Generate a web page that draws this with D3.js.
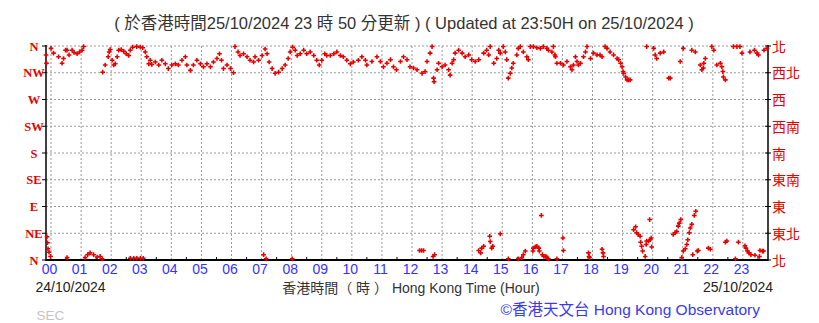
<!DOCTYPE html>
<html><head><meta charset="utf-8">
<script src="https://cdn.jsdelivr.net/npm/d3@7"></script>
<style>
html,body{margin:0;padding:0;background:#fff;}
svg{display:block;}
</style>
</head><body>
<script>
// ---- data ----
const titleText = "( 於香港時間25/10/2024 23 時 50 分更新 ) ( Updated at 23:50H on 25/10/2024 )";
const dirLabelsEn = ["N","NE","E","SE","S","SW","W","NW","N"];
const dirLabelsZh = ["北","東北","東","東南","南","西南","西","西北","北"];
const dirValues = [0,45,90,135,180,225,270,315,360];
const hourLabels = ["00","01","02","03","04","05","06","07","08","09","10","11","12","13","14","15","16","17","18","19","20","21","22","23"];
const startDateLabel = "24/10/2024";
const endDateLabel = "25/10/2024";
const xAxisTitle = "香港時間（ 時 ） Hong Kong Time (Hour)";
const creditText = "©香港天文台 Hong Kong Observatory";
// minutes from 00:00 25/10/2024 (negative = previous day)
const obsMinutes = [
-10,-9,-8,-7,-6,-4,-1,0,5,15,22,25,29,32,36,42,46,52,57,62,65,
32,68,73,78,85,92,98,102,
103,108,114,116,118,122,125,128,132,135,140,145,150,155,158,163,171,178,183,188,191,195,198,201,208,215,221,228,234,241,248,254,261,268,271,278,284,291,298,304,311,318,324,331,336,340,344,351,358,364,
158,165,171,178,184,
367,373,377,384,391,397,404,407,414,421,427,431,435,441,447,454,461,467,473,477,482,487,491,497,504,510,517,524,530,535,540,546,550,557,564,570,577,583,590,597,603,613,620,627,630,640,650,657,663,670,677,683,689,697,703,710,716,723,730,740,746,
424,429,481,
735,739,743,
750,756,760,763,764,762,765,
770,773,780,786,793,796,800,803,806,813,820,826,833,839,846,853,
853,857,859,863,875,876,879,881,896,
863,869,873,876,883,889,893,896,902,906,909,
912,916,919,922,929,932,936,942,949,952,956,962,969,976,982,989,992,999,1002,1005,1006,1009,1016,1022,1029,1036,1039,1042,1046,1049,1052,1056,1062,1066,1069,1076,1082,1089,1095,1099,1105,1109,1115,1122,1129,1132,1136,1139,1141,1142,1146,1149,1152,1155,
912,932,939,942,946,961,962,966,969,973,974,978,980,983,987,989,992,1009,1021,1022,1072,1073,1074,1099,1101,1102,
1162,1166,1168,1171,1175,1176,1178,1180,1185,1187,1188,1192,1194,1195,1197,1198,
1188,1202,1205,1208,1215,1222,1232,1235,
1241,1245,1248,1251,1253,1256,1258,1261,1265,1268,1270,1273,1275,1278,1280,1283,1286,1289,1291,
1255,1261,1278,1285,1295,1298,1301,1302,1305,
1318,1322,1328,1335,1338,1340,1341,1345,
1311,1315,1345,1348,1365,1371,1384,1386,1389,1392,1396,1404,1413,1414,1419,1421,
1361,1368,1374,1378,1394,1403,1408,1411,1422,1428
];
// wind direction in degrees
const obsDirection = [
345,331,39,29,19,13,6,356,348,342,331,339,353,353,345,353,349,347,350,353,359,
4,4,9,12,9,5,6,2,
316,328,342,350,354,336,328,330,342,353,354,351,347,344,353,358,359,358,357,350,342,330,336,329,333,328,336,330,322,328,330,328,336,342,328,319,328,336,330,325,330,325,333,339,347,336,322,328,322,315,
3,3,3,3,3,
359,350,344,347,342,336,333,342,336,344,355,347,333,322,314,316,322,328,339,350,358,353,344,347,353,347,350,344,336,328,336,347,344,344,347,350,344,342,336,330,333,336,342,336,328,334,342,334,325,331,337,325,320,334,342,337,325,323,320,314,317,
9,2,2,
16,16,16,
334,348,359,306,300,6,9,
320,331,325,328,320,311,331,337,348,353,348,342,345,337,334,337,
16,12,20,23,40,31,20,23,44,
348,353,345,359,331,339,353,348,359,350,337,
306,314,323,331,345,356,359,350,342,337,359,359,357,356,359,356,353,350,359,345,342,331,331,328,334,325,320,328,342,334,328,331,342,350,359,339,348,345,345,342,359,356,350,345,339,337,331,325,317,314,308,303,303,303,
2,2,4,9,15,15,20,22,23,20,15,75,9,6,6,4,2,2,37,16,12,6,4,18,12,6,
51,56,46,43,40,30,23,15,6,26,32,32,68,34,37,22,
359,356,345,339,348,350,306,306,
43,46,48,57,62,68,4,15,19,26,34,46,54,60,9,75,82,15,16,
334,356,353,350,328,320,323,331,339,
359,353,328,331,325,317,308,303,
20,18,30,32,2,30,24,20,15,12,9,8,6,16,15,15,
359,359,359,348,350,353,348,345,353,356
];

// ---- layout ----
const W = 819, H = 323;
const plot = {left:46, right:768, top:46, bottom:260};
const svg = d3.select("body").append("svg").attr("width", W).attr("height", H);

const x = d3.scaleLinear().domain([-10, 1430]).range([plot.left, plot.right]);
const y = d3.scaleLinear().domain([0, 360]).range([plot.bottom, plot.top]);

const red = "#e60000";
const gridColor = "#9a9a9a";

// title
svg.append("text").attr("x", 404).attr("y", 29).attr("text-anchor","middle")
  .attr("font-family","'Liberation Sans', 'Noto Sans CJK TC', sans-serif").attr("font-size", 16.5)
  .attr("fill","#333").text(titleText);

// gridlines
const hourMinutes = hourLabels.map((h,i)=>i*60);
const gGrid = svg.append("g");
gGrid.selectAll("line.v").data(hourMinutes).enter().append("line")
  .attr("x1", d=>x(d)).attr("x2", d=>x(d)).attr("y1", plot.top).attr("y2", plot.bottom)
  .attr("stroke", gridColor).attr("stroke-width",1).attr("stroke-dasharray","2,2");
gGrid.selectAll("line.h").data(dirValues.filter(d=>d>0)).enter().append("line")
  .attr("x1", plot.left).attr("x2", plot.right).attr("y1", d=>y(d)).attr("y2", d=>y(d))
  .attr("stroke", gridColor).attr("stroke-width",1).attr("stroke-dasharray","2,2");

// axes lines
const gAx = svg.append("g");
gAx.append("line").attr("x1",plot.left).attr("x2",plot.left).attr("y1",plot.top-1).attr("y2",plot.bottom+1)
  .attr("stroke","#000").attr("stroke-width",1.5);
gAx.append("line").attr("x1",plot.right).attr("x2",plot.right).attr("y1",plot.top-1).attr("y2",plot.bottom+1)
  .attr("stroke","#000").attr("stroke-width",1.5);
gAx.append("line").attr("x1",plot.left).attr("x2",plot.right).attr("y1",plot.bottom).attr("y2",plot.bottom)
  .attr("stroke","#000").attr("stroke-width",2);
// left/right ticks
gAx.selectAll("line.lt").data(dirValues).enter().append("line")
  .attr("x1",plot.left-4).attr("x2",plot.left).attr("y1",d=>y(d)).attr("y2",d=>y(d))
  .attr("stroke","#000").attr("stroke-width",1);
gAx.selectAll("line.rt").data(dirValues).enter().append("line")
  .attr("x1",plot.right-3).attr("x2",plot.right+3).attr("y1",d=>y(d)).attr("y2",d=>y(d))
  .attr("stroke","#000").attr("stroke-width",1);
// minor half-hour ticks
const halfHours = hourMinutes.map(m=>m+30).filter(m=>m<1430);
gAx.selectAll("line.mt").data(halfHours).enter().append("line")
  .attr("x1",d=>x(d)).attr("x2",d=>x(d)).attr("y1",plot.bottom-3).attr("y2",plot.bottom)
  .attr("stroke","#000").attr("stroke-width",1);

// bottom axis via d3
const xAxis = d3.axisBottom(x).tickValues(hourMinutes).tickSize(0).tickPadding(0)
  .tickFormat((d,i)=>hourLabels[i]);
const gx = svg.append("g").attr("transform",`translate(-2,${plot.bottom})`).call(xAxis);
gx.select(".domain").remove();
gx.selectAll("text").attr("dy", null).attr("y", 13.5)
  .attr("font-family","'Liberation Sans', Arial, sans-serif").attr("font-size", 14)
  .attr("fill","#3333ff");

// left labels
svg.append("g").selectAll("text").data(dirValues).enter().append("text")
  .attr("x", 34).attr("y", d=>y(d)+4.5).attr("text-anchor","middle")
  .attr("font-family","'Liberation Serif', serif").attr("font-weight","bold").attr("font-size", 12.5)
  .attr("fill", red).text((d,i)=>dirLabelsEn[i]);
// right labels
svg.append("g").selectAll("text").data(dirValues).enter().append("text")
  .attr("x", 772).attr("y", d=>y(d)+5.5).attr("text-anchor","start")
  .attr("font-family","'Noto Sans CJK TC', sans-serif").attr("font-size", 14)
  .attr("fill", red).text((d,i)=>dirLabelsZh[i]);

// data markers
const n = Math.min(obsMinutes.length, obsDirection.length);
const pts = d3.range(n).map(i=>({m: obsMinutes[i], d: obsDirection[i]}));
const sym = d3.symbol().type(d3.symbolCross).size(12);
svg.append("g").selectAll("path").data(pts).enter().append("path")
  .attr("d", sym).attr("transform", p=>`translate(${x(p.m)},${y(p.d)})`)
  .attr("fill", red);

// bottom texts
const sans = "'Liberation Sans', 'Noto Sans CJK TC', Arial, sans-serif";
svg.append("text").attr("x",35.5).attr("y",291.5).attr("font-family",sans).attr("font-size",14)
  .attr("fill","#222").text(startDateLabel);
svg.append("text").attr("x",773).attr("y",291.5).attr("text-anchor","end").attr("font-family",sans).attr("font-size",14)
  .attr("fill","#222").text(endDateLabel);
svg.append("text").attr("x",411).attr("y",293).attr("text-anchor","middle").attr("font-family",sans).attr("font-size",14)
  .attr("fill","#333").text(xAxisTitle);
svg.append("text").attr("x",760).attr("y",315).attr("text-anchor","end").attr("font-family",sans).attr("font-size",15.5)
  .attr("fill","#3a3af0").text(creditText);
svg.append("text").attr("x",36.5).attr("y",319.5).attr("font-family",sans).attr("font-size",13.5)
  .attr("fill","#c4c4c4").text("SEC");
</script>
</body></html>
